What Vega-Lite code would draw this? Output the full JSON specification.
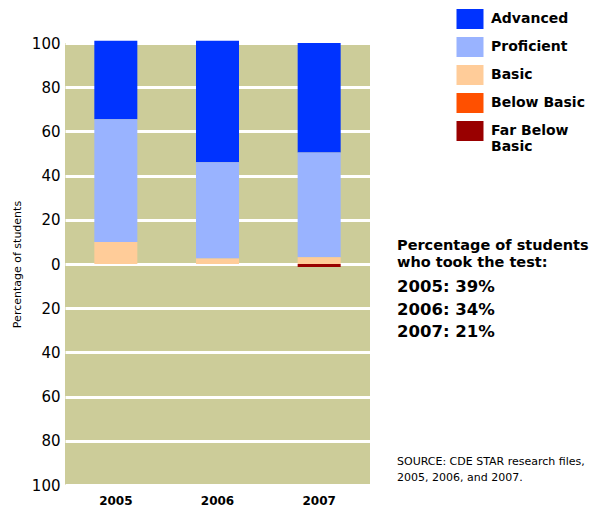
{
  "$schema": "https://vega.github.io/schema/vega-lite/v6.json",
  "background": "white",
  "padding": {"left": 11, "top": 9, "right": 0, "bottom": 0},
  "config": {
    "font": "DejaVu Sans",
    "legend": {"padding": 0}
  },
  "spacing": 27,
  "hconcat": [
    {
      "width": 305,
      "height": 442,
      "view": {"fill": "#CCCC99", "stroke": null},
      "data": {
        "values": [
          {"year": "2005", "level": "Advanced", "rank": 5, "pct": 35.5},
          {"year": "2005", "level": "Proficient", "rank": 4, "pct": 55.5},
          {"year": "2005", "level": "Basic", "rank": 3, "pct": 10},
          {"year": "2005", "level": "Below Basic", "rank": 1, "pct": 0},
          {"year": "2005", "level": "Far Below Basic", "rank": 2, "pct": 0},
          {"year": "2006", "level": "Advanced", "rank": 5, "pct": 55},
          {"year": "2006", "level": "Proficient", "rank": 4, "pct": 43.5},
          {"year": "2006", "level": "Basic", "rank": 3, "pct": 2.5},
          {"year": "2006", "level": "Below Basic", "rank": 1, "pct": 0},
          {"year": "2006", "level": "Far Below Basic", "rank": 2, "pct": 0},
          {"year": "2007", "level": "Advanced", "rank": 5, "pct": 49.5},
          {"year": "2007", "level": "Proficient", "rank": 4, "pct": 47.5},
          {"year": "2007", "level": "Basic", "rank": 3, "pct": 3},
          {"year": "2007", "level": "Below Basic", "rank": 1, "pct": 0},
          {"year": "2007", "level": "Far Below Basic", "rank": 2, "pct": -1.4}
        ]
      },
      "encoding": {
        "x": {
          "field": "year",
          "type": "nominal",
          "scale": {"paddingInner": 0.577, "paddingOuter": 0.2885},
          "axis": {
            "title": null,
            "labelAngle": 0,
            "labelFontSize": 12,
            "labelFontWeight": "bold",
            "labelColor": "black",
            "labelPadding": 10,
            "ticks": false,
            "domain": false
          }
        }
      },
      "layer": [
        {
          "mark": {"type": "bar"},
          "encoding": {
            "y": {
              "field": "pct",
              "type": "quantitative",
              "stack": "zero",
              "scale": {"domain": [-100, 100], "nice": false},
              "axis": {
                "title": "Percentage of students",
                "titleFontSize": 11,
                "titleFontWeight": "normal",
                "titleColor": "black",
                "titlePadding": 9,
                "values": [-100, -80, -60, -40, -20, 0, 20, 40, 60, 80, 100],
                "labelExpr": "abs(datum.value)",
                "labelFontSize": 15,
                "labelColor": "black",
                "labelPadding": 5,
                "ticks": false,
                "domain": false,
                "grid": true,
                "gridColor": "white",
                "gridWidth": 3,
                "gridOpacity": 1
              }
            },
            "color": {
              "field": "level",
              "type": "nominal",
              "scale": {
                "domain": ["Advanced", "Proficient", "Basic", "Below Basic", "Far Below Basic"],
                "range": ["#0033FF", "#99B3FF", "#FFCC99", "#FF5000", "#990000"]
              },
              "legend": {
                "title": null,
                "orient": "none",
                "legendX": 395,
                "legendY": -34,
                "symbolType": "M-1.35,-1L1.35,-1L1.35,1L-1.35,1Z",
                "symbolSize": 400,
                "symbolStrokeWidth": 0,
                "symbolOpacity": 1,
                "labelFontSize": 14,
                "labelFontWeight": "bold",
                "labelColor": "black",
                "labelOffset": 11,
                "rowPadding": 8,
                "labelExpr": "datum.label == 'Far Below Basic' ? ['Far Below', 'Basic'] : datum.label"
              }
            },
            "order": {"field": "rank", "type": "quantitative"}
          }
        },
        {
          "mark": {"type": "rule", "color": "black", "strokeWidth": 3},
          "encoding": {"y": {"datum": 0}}
        }
      ]
    },
    {
      "width": 200,
      "height": 442,
      "view": {"stroke": null},
      "layer": [
        {
          "data": {"values": [
            {"line": 1, "text": "Percentage of students"},
            {"line": 2, "text": "who took the test:"}
          ]},
          "mark": {"type": "text", "align": "left", "baseline": "alphabetic", "fontSize": 14.5, "fontWeight": "bold", "color": "black"},
          "encoding": {
            "x": {"datum": 0, "type": "quantitative", "scale": {"domain": [0, 1]}, "axis": null},
            "y": {"field": "line", "type": "ordinal", "scale": {"type": "point", "padding": 0, "range": [207, 224]}, "axis": null},
            "text": {"field": "text"}
          }
        },
        {
          "data": {"values": [
            {"line": 1, "text": "2005: 39%"},
            {"line": 2, "text": "2006: 34%"},
            {"line": 3, "text": "2007: 21%"}
          ]},
          "mark": {"type": "text", "align": "left", "baseline": "alphabetic", "fontSize": 16.5, "fontWeight": "bold", "color": "black"},
          "encoding": {
            "x": {"datum": 0, "type": "quantitative", "scale": {"domain": [0, 1]}, "axis": null},
            "y": {"field": "line", "type": "ordinal", "scale": {"type": "point", "padding": 0, "range": [249, 294]}, "axis": null},
            "text": {"field": "text"}
          }
        },
        {
          "data": {"values": [
            {"line": 1, "text": "SOURCE: CDE STAR research files,"},
            {"line": 2, "text": "2005, 2006, and 2007."}
          ]},
          "mark": {"type": "text", "align": "left", "baseline": "alphabetic", "fontSize": 11, "color": "black"},
          "encoding": {
            "x": {"datum": 0, "type": "quantitative", "scale": {"domain": [0, 1]}, "axis": null},
            "y": {"field": "line", "type": "ordinal", "scale": {"type": "point", "padding": 0, "range": [422, 438]}, "axis": null},
            "text": {"field": "text"}
          }
        }
      ],
      "resolve": {"scale": {"y": "independent"}}
    }
  ]
}
